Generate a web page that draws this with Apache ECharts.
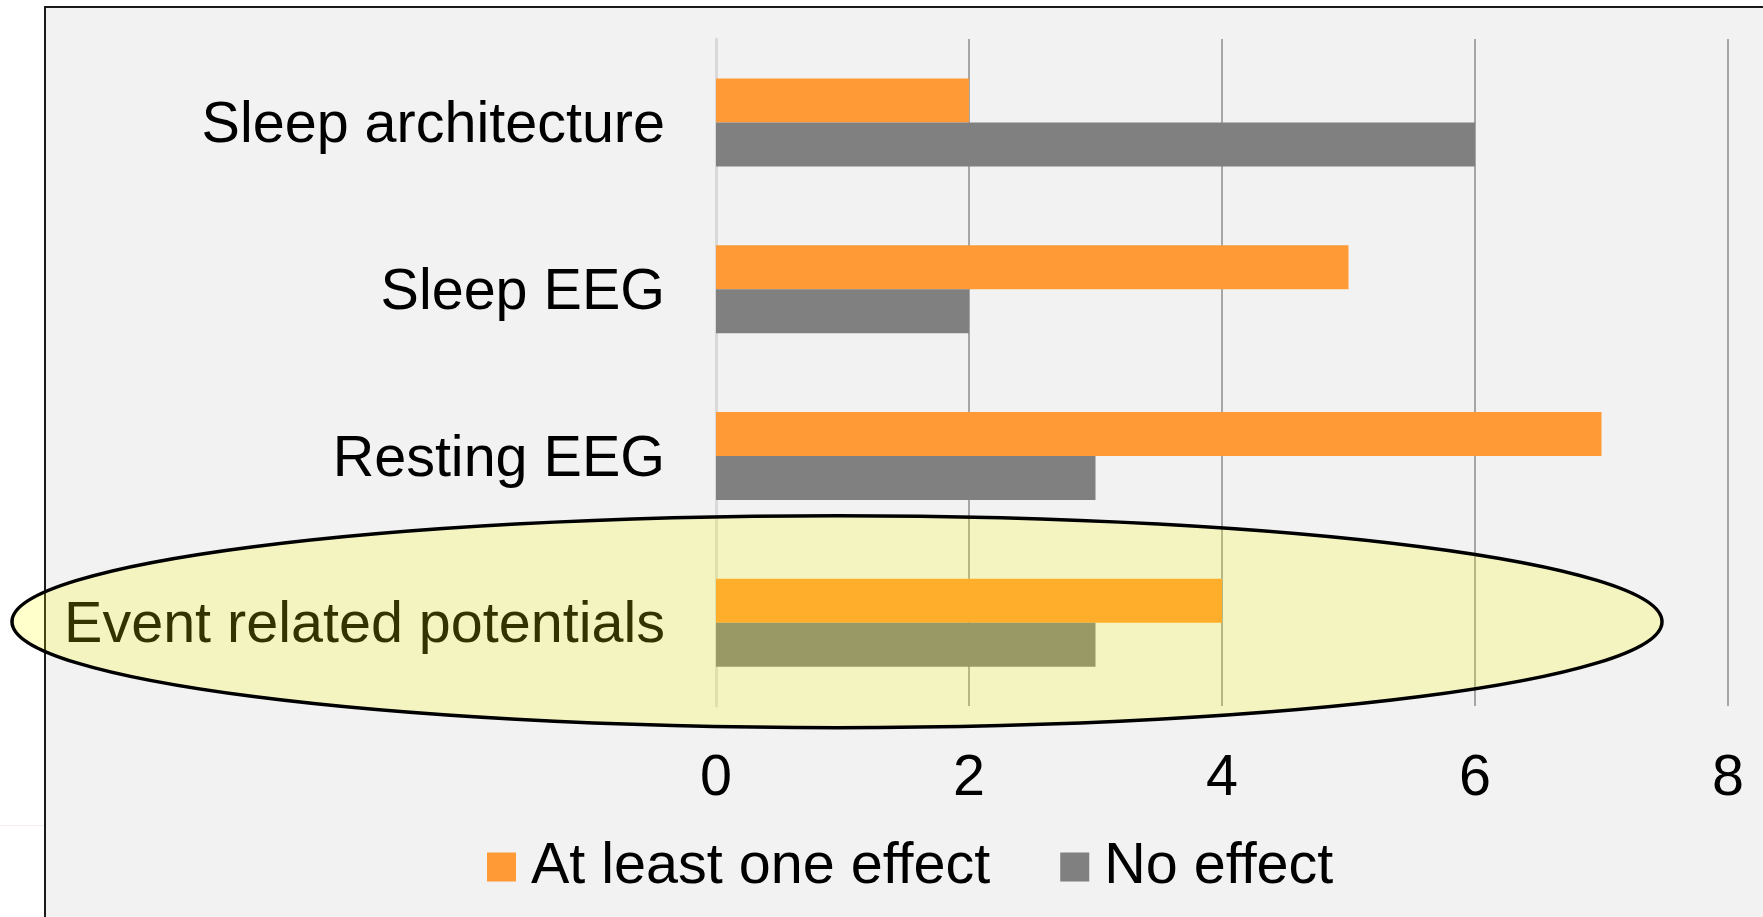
<!DOCTYPE html>
<html>
<head>
<meta charset="utf-8">
<script src="https://cdn.jsdelivr.net/npm/echarts@6/dist/echarts.min.js"></script>
<style>
  html, body { margin: 0; padding: 0; background: #ffffff; overflow: hidden; }
  #frame { position: absolute; left: 44px; top: 6px; width: 1800px; height: 1000px;
           background: #f2f2f2; border: 2px solid #1a1a1a; box-sizing: border-box; }
  #stray { position: absolute; left: 0; top: 825px; width: 44px; height: 1px; background: #f6ecec; }
  #chart { position: absolute; left: 0; top: 0; width: 1763px; height: 917px; }
</style>
</head>
<body>
<div id="frame"></div>
<div id="stray"></div>
<div id="chart"></div>
<script>
const categories = ['Sleep architecture', 'Sleep EEG', 'Resting EEG', 'Event related potentials'];
const seriesNames = ['At least one effect', 'No effect'];
const atLeastOneEffect = [2, 5, 7, 4];
const noEffect = [6, 2, 3, 3];
const xTicks = { min: 0, max: 8, interval: 2 };
const highlightedCategory = 'Event related potentials';

const FONT = '"Liberation Sans", Arial, sans-serif';
const FS = 57.5;
const chart = echarts.init(document.getElementById('chart'), null, { renderer: 'canvas' });

const option = {
  backgroundColor: 'transparent',
  animation: false,
  textStyle: { fontFamily: FONT },
  grid: { left: 716, right: 35, top: 39, bottom: 211, containLabel: false },
  legend: {
    data: seriesNames,
    left: 482,
    top: 833,
    icon: 'rect',
    itemWidth: 29,
    itemHeight: 29,
    itemGap: 70,
    textStyle: { fontSize: FS, color: '#000', fontFamily: FONT, padding: [0, 0, 0, 10] },
    selectedMode: false
  },
  xAxis: {
    type: 'value',
    min: xTicks.min,
    max: xTicks.max,
    interval: xTicks.interval,
    axisLine: { show: false },
    axisTick: { show: false },
    axisLabel: { fontSize: FS, color: '#000', fontFamily: FONT, margin: 44 },
    splitLine: { show: true, lineStyle: { color: '#a6a6a6', width: 2 } }
  },
  yAxis: {
    type: 'category',
    data: categories,
    inverse: true,
    axisLine: { show: true, lineStyle: { color: '#d9d9d9', width: 3 } },
    axisTick: { show: false },
    axisLabel: {
      interval: 0,
      fontSize: FS, fontFamily: FONT, margin: 51, color: '#000',
      verticalAlign: 'top', lineHeight: 8
    },
    splitLine: { show: false }
  },
  series: [
    {
      name: seriesNames[0],
      type: 'bar',
      data: atLeastOneEffect,
      barWidth: 44,
      barGap: '0%',
      itemStyle: { color: '#ff9a36' }
    },
    {
      name: seriesNames[1],
      type: 'bar',
      data: noEffect,
      barWidth: 44,
      barGap: '0%',
      itemStyle: { color: '#808080' }
    }
  ]
};
chart.setOption(option);

// Highlight ellipse annotation around the last category
const cy = chart.convertToPixel({ yAxisIndex: 0 }, highlightedCategory);
chart.setOption({
  graphic: [{
    type: 'ellipse',
    silent: true,
    z: 100,
    shape: { cx: 837, cy: cy - 1, rx: 825, ry: 106 },
    style: { fill: 'rgba(255,255,0,0.2)', stroke: '#000', lineWidth: 3.5 }
  }]
});
</script>
</body>
</html>
